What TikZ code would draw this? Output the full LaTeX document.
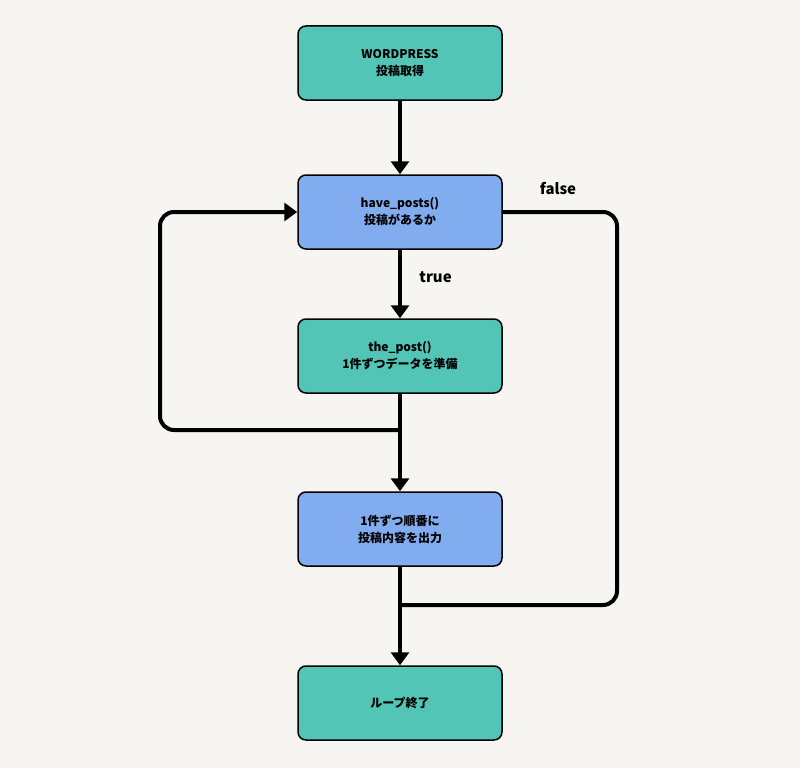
\documentclass[tikz,border=0pt]{standalone}
\usepackage{fontspec}
\setmainfont{Noto Sans CJK JP}
\usetikzlibrary{arrows.meta}
\definecolor{bgcol}{HTML}{F6F5F2}
\definecolor{tealbox}{HTML}{52C5B6}
\definecolor{bluebox}{HTML}{82ACF0}
\begin{document}
\begin{tikzpicture}[x=1pt,y=-1pt,
  box/.style={draw=black,line width=1.5pt,rounded corners=8pt,minimum width=204pt,minimum height=74pt,align=center,font=\bfseries\fontsize{12}{17}\selectfont},
  flow/.style={line width=4pt,-{Triangle[width=18pt,length=13pt]}},
  line/.style={line width=4pt,rounded corners=14pt},
  lbl/.style={font=\bfseries\fontsize{15}{18}\selectfont}]

\fill[bgcol] (0,0) rectangle (800,768);

\def\MIDX{400}

% boxes
\node at (\MIDX,63) [box, fill=tealbox] (fetch) {WORDPRESS\\投稿取得};
\node at (\MIDX,212) [box, fill=bluebox] (have) {have\_posts()\\投稿があるか};
\node at (\MIDX,356) [box, fill=tealbox] (post) {the\_post()\\1件ずつデータを準備};
\node at (\MIDX,529) [box, fill=bluebox] (show) {1件ずつ順番に\\投稿内容を出力};
\node at (\MIDX,703) [box, fill=tealbox] (done) {ループ終了};

% joints
\coordinate (loopj) at (\MIDX,430);
\coordinate (endj) at (\MIDX,605);

% arrows
\draw[flow] (fetch) -- (have);
\draw[flow] (have) -- node[lbl,right=14pt,pos=0.4]{true} (post);
\draw[line] (post.south) -- (loopj);
\draw[flow] (loopj) -- (show);
\draw[line,-{Triangle[width=18pt,length=13pt]}] (loopj) -- (160,430) -- (160,212) -- (have.west);
\draw[line] (have.east) -- (617,212) -- (617,605) -- (endj);
\draw[flow] (show) -- (done);
\node[lbl] (falselbl) at (558,189) {false};

\end{tikzpicture}
\end{document}
